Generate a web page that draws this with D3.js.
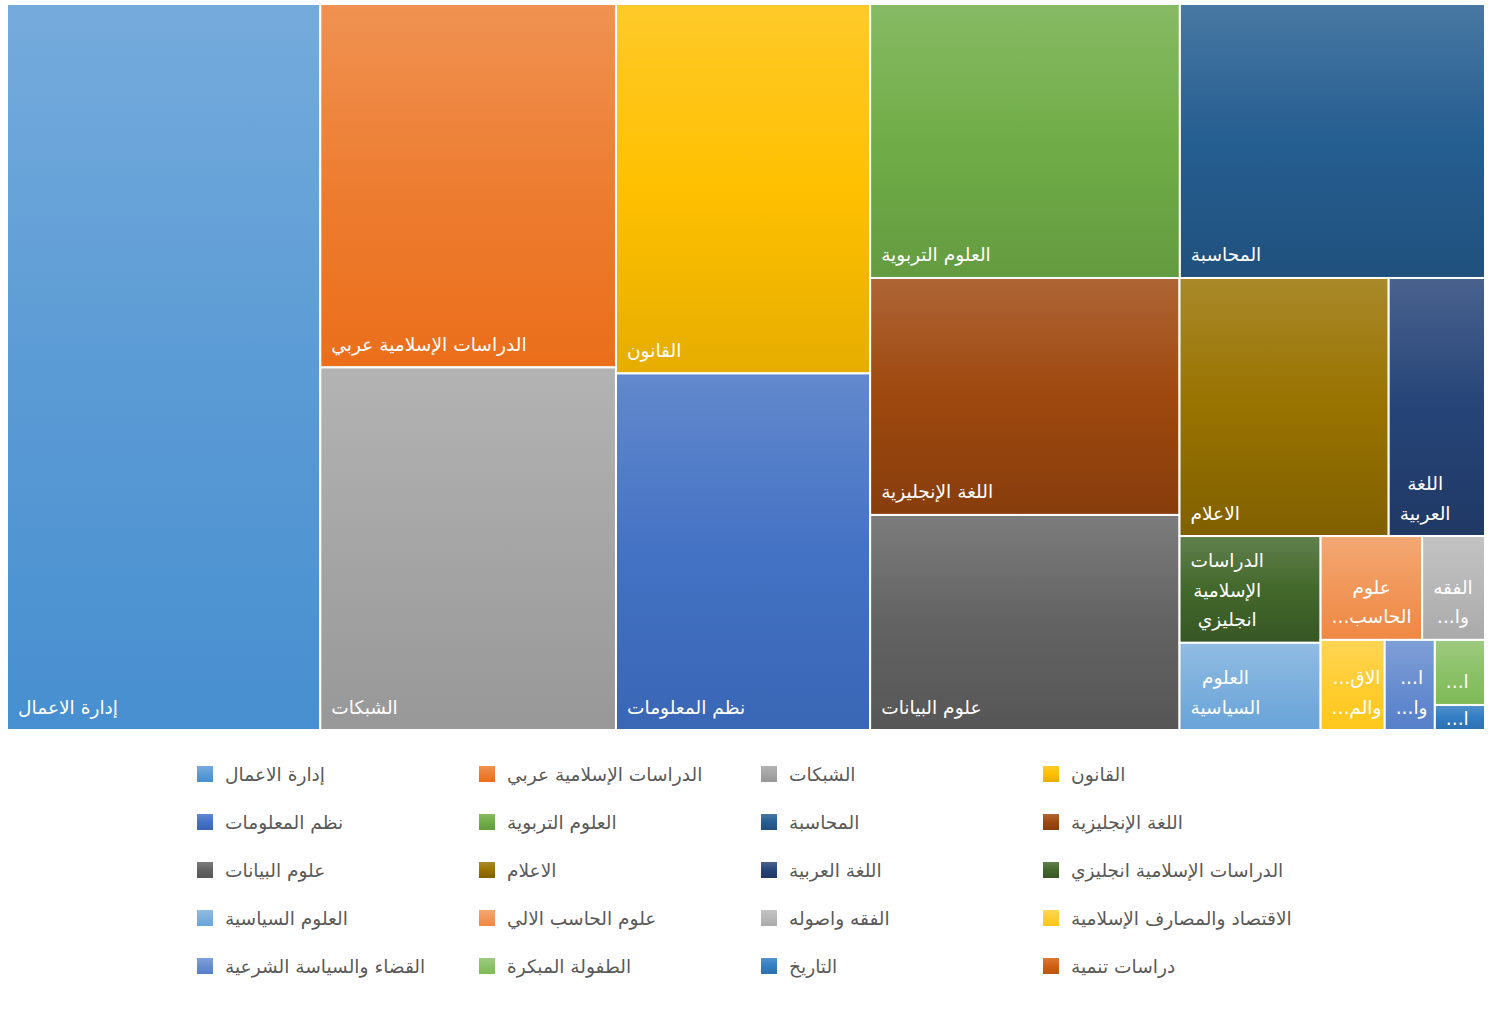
<!DOCTYPE html>
<html>
<head>
<meta charset="utf-8">
<script src="https://cdn.jsdelivr.net/npm/d3@7"></script>
<style>
  html, body { margin: 0; padding: 0; background: #ffffff; }
  svg { display: block; }
</style>
</head>
<body>
<svg id="chart" width="1504" height="1012"></svg>
<script>
// ---------------- data ----------------
const categories = [
  "إدارة الاعمال",
  "الدراسات الإسلامية عربي",
  "الشبكات",
  "القانون",
  "نظم المعلومات",
  "العلوم التربوية",
  "المحاسبة",
  "اللغة الإنجليزية",
  "علوم البيانات",
  "الاعلام",
  "اللغة العربية",
  "الدراسات الإسلامية انجليزي",
  "العلوم السياسية",
  "علوم الحاسب الالي",
  "الفقه واصوله",
  "الاقتصاد والمصارف الإسلامية",
  "القضاء والسياسة الشرعية",
  "الطفولة المبكرة",
  "التاريخ",
  "دراسات تنمية"
];
const values = [906, 428, 427, 374, 361, 338, 333, 292, 265, 215, 99, 60, 49, 42, 26, 23, 18, 13, 5, 0];

// Office chart palette (accents, darker, lighter, darker 2)
const palette = [
  "#5B9BD5", "#ED7D31", "#A5A5A5", "#FFC000", "#4472C4", "#70AD47",
  "#255E91", "#9E480E", "#636363", "#997300", "#264478", "#43682B",
  "#7CAFDD", "#F1975A", "#B7B7B7", "#FFCD33", "#698ED0", "#8CC168",
  "#327DC2", "#D26012"
];

// ---------------- layout settings ----------------
const FONT = "DejaVu Sans, sans-serif";
const plot = { x: 7, y: 4, w: 1478, h: 726 };
const LABEL_FS = 18.6, LINE_H = 29.5, PAD_X = 10;
const LEGEND = { x0: 197, y0: 774, dx: 282, dy: 48, cols: 4, box: 16, gap: 12, fs: 18.6 };

const svg = d3.select("#chart");
const defs = svg.append("defs");

// ---------------- tiling (strip layout, oriented aspect criterion) ----------------
function aspectScore(a) { return a >= 1 ? a - 1 : (1 - a) + 0.05; }

function stripTile(parent, x0, y0, x1, y1) {
  const nodes = parent.children;
  let remaining = parent.value;
  let i0 = 0;
  while (i0 < nodes.length) {
    const dx = x1 - x0, dy = y1 - y0;
    const column = dx >= dy;
    const worst = (i1) => {
      let s = 0;
      for (let k = i0; k < i1; k++) s += nodes[k].value;
      const thick = (column ? dx : dy) * s / remaining;
      let m = 0;
      for (let k = i0; k < i1; k++) {
        const len = (column ? dy : dx) * nodes[k].value / s;
        const a = column ? thick / len : len / thick;
        m = Math.max(m, aspectScore(a));
      }
      return m;
    };
    let i1 = i0 + 1, best = worst(i1);
    while (i1 < nodes.length) {
      const sc = worst(i1 + 1);
      if (sc > best) break;
      best = sc; i1++;
    }
    const row = nodes.slice(i0, i1);
    const s = d3.sum(row, d => d.value);
    const grp = { children: row, value: s };
    if (column) {
      const nx = i1 === nodes.length ? x1 : x0 + dx * s / remaining;
      d3.treemapSlice(grp, x0, y0, nx, y1);
      x0 = nx;
    } else {
      const ny = i1 === nodes.length ? y1 : y0 + dy * s / remaining;
      d3.treemapDice(grp, x0, y0, x1, ny);
      y0 = ny;
    }
    remaining -= s;
    i0 = i1;
  }
}

const items = categories.map((c, i) => ({ name: c, value: values[i], idx: i }));
const root = d3.hierarchy({ children: items.filter(d => d.value > 0) })
  .sum(d => d.value || 0);

d3.treemap().tile(stripTile).size([plot.w, plot.h])(root);

// ---------------- gradients ----------------
function gradientStops(base) {
  const top = d3.interpolateRgb(base, "#ffffff")(0.16);
  const h = d3.hsl(base);
  const bottom = d3.hsl(h.h, h.s, Math.max(0, h.l - 0.05)).formatHex();
  return [top, base, bottom];
}
palette.forEach((c, i) => {
  const g = defs.append("linearGradient").attr("id", "g" + i)
    .attr("x1", 0).attr("y1", 0).attr("x2", 0).attr("y2", 1);
  const st = gradientStops(c);
  g.append("stop").attr("offset", "0%").attr("stop-color", st[0]);
  g.append("stop").attr("offset", "50%").attr("stop-color", st[1]);
  g.append("stop").attr("offset", "100%").attr("stop-color", st[2]);
});

// ---------------- tiles ----------------
const gPlot = svg.append("g").attr("transform", `translate(${plot.x},${plot.y})`);
const leaves = root.leaves();

gPlot.selectAll("rect.tile").data(leaves).join("rect")
  .attr("class", "tile")
  .attr("x", d => d.x0).attr("y", d => d.y0)
  .attr("width", d => Math.max(0, d.x1 - d.x0))
  .attr("height", d => Math.max(0, d.y1 - d.y0))
  .attr("fill", d => `url(#g${d.data.idx})`)
  .attr("stroke", "#ffffff").attr("stroke-width", 2);

// ---------------- labels ----------------
const measurer = svg.append("text")
  .attr("font-family", FONT).attr("font-size", LABEL_FS)
  .attr("direction", "rtl").style("visibility", "hidden");
function tw(s, fs) {
  measurer.attr("font-size", fs || LABEL_FS).text(s);
  return measurer.node().getComputedTextLength();
}
function clip(s, maxW) {
  let t = s;
  while (t.length > 1 && tw(t + "...") > maxW) t = t.slice(0, -1);
  return t + "...";
}
function labelLines(text, w, h) {
  const wrapW = w - 2 * PAD_X;
  const clipW = w - 14;
  const maxLines = Math.max(1, Math.floor((h - 17) / LINE_H));
  const words = text.split(" ");
  const lines = [];
  let cur = "";
  for (const wd of words) {
    const t = cur ? cur + " " + wd : wd;
    if (!cur || tw(t) <= wrapW) cur = t;
    else { lines.push(cur); cur = wd; }
  }
  if (cur) lines.push(cur);
  const truncated = lines.length > maxLines;
  const out = lines.slice(0, maxLines);
  return out.map((l, i) => {
    if (truncated && i === out.length - 1) return clip(l, clipW);
    return tw(l) <= wrapW ? l : clip(l, clipW);
  });
}

const gLabels = svg.append("g").attr("transform", `translate(${plot.x},${plot.y})`);
leaves.forEach(d => {
  const w = d.x1 - d.x0, h = d.y1 - d.y0;
  const lines = labelLines(d.data.name, w, h);
  const widths = lines.map(l => tw(l));
  const blockW = d3.max(widths);
  const cx = d.x0 + PAD_X + 1 + blockW / 2;
  const span = (lines.length - 1) * LINE_H;
  let last = d.y1 - 23;
  if (last - span < d.y0 + 13) last = (d.y0 + d.y1) / 2 + span / 2 + 1;
  lines.forEach((l, i) => {
    gLabels.append("text")
      .attr("x", cx)
      .attr("y", last - span + i * LINE_H)
      .attr("dy", "0.35em")
      .attr("text-anchor", "middle")
      .attr("direction", "rtl")
      .attr("font-family", FONT)
      .attr("font-size", LABEL_FS)
      .attr("fill", "#ffffff")
      .text(l);
  });
});

// ---------------- legend ----------------
const gLeg = svg.append("g");
categories.forEach((c, i) => {
  const col = i % LEGEND.cols, row = Math.floor(i / LEGEND.cols);
  const x = LEGEND.x0 + col * LEGEND.dx;
  const y = LEGEND.y0 + row * LEGEND.dy;
  gLeg.append("rect")
    .attr("x", x).attr("y", y - LEGEND.box / 2)
    .attr("width", LEGEND.box).attr("height", LEGEND.box)
    .attr("fill", `url(#g${i})`);
  const tx = x + LEGEND.box + LEGEND.gap;
  const w = tw(c, LEGEND.fs);
  gLeg.append("text")
    .attr("x", tx + w / 2).attr("y", y)
    .attr("dy", "0.35em")
    .attr("text-anchor", "middle")
    .attr("direction", "rtl")
    .attr("font-family", FONT)
    .attr("font-size", LEGEND.fs)
    .attr("fill", "#595959")
    .text(c);
});
measurer.remove();
</script>
</body>
</html>
